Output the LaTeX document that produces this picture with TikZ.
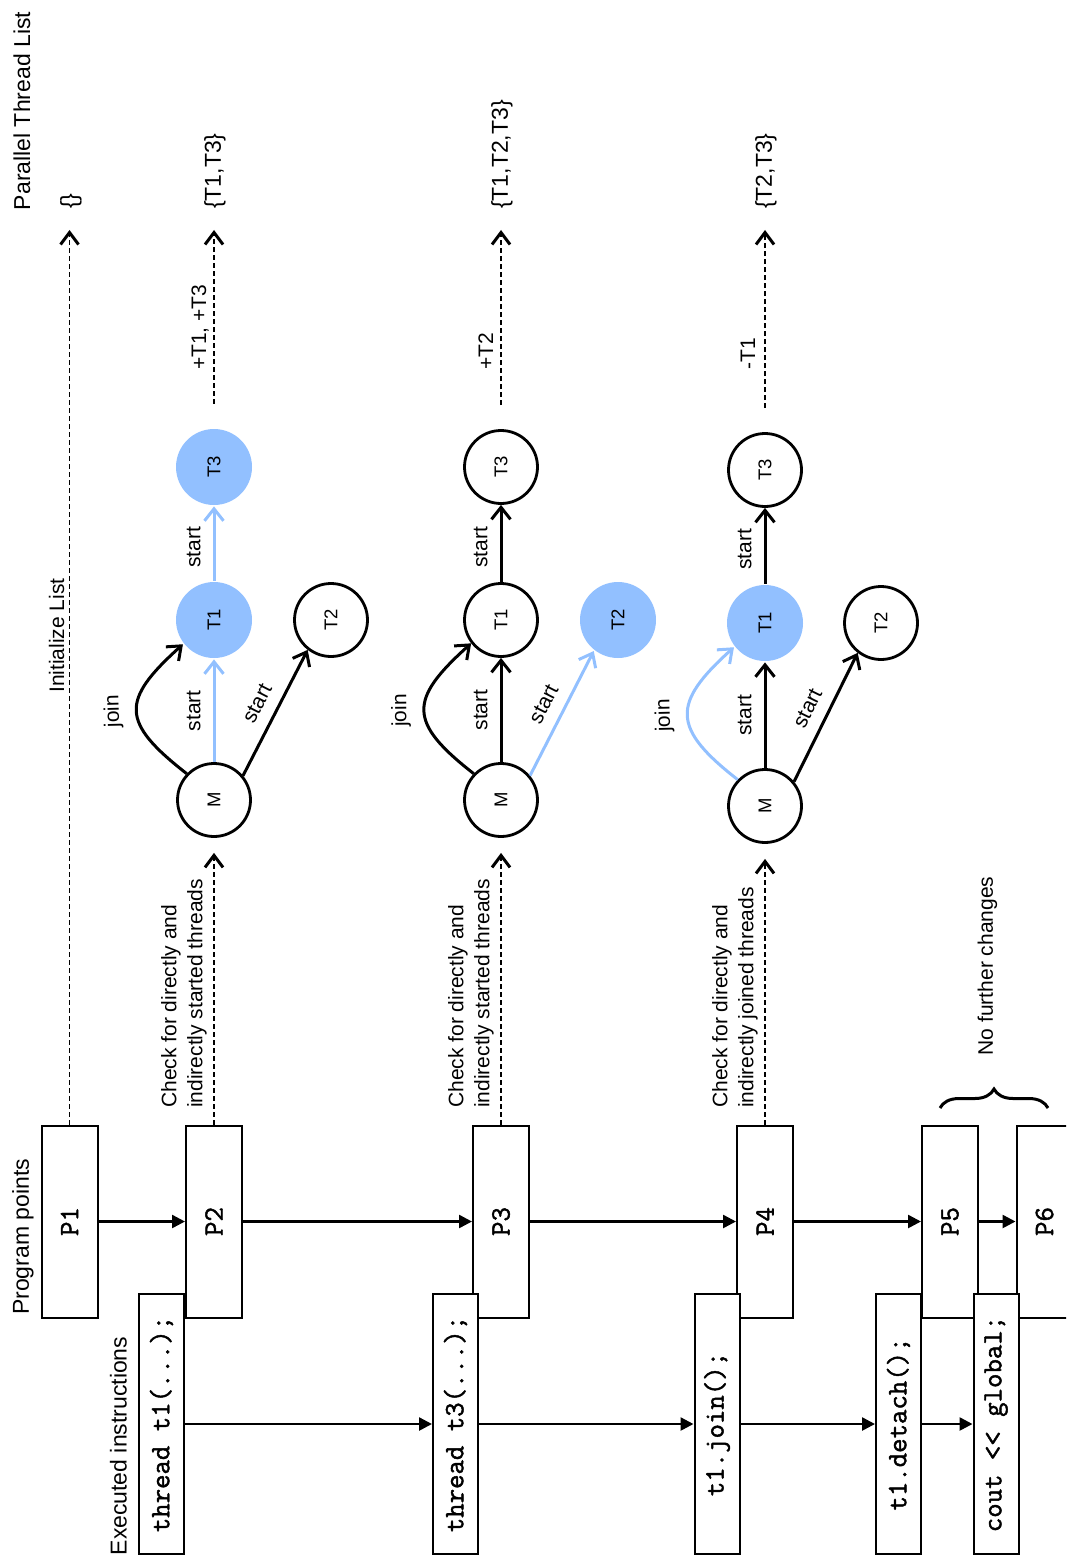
\documentclass[tikz,border=0pt]{standalone}
\usepackage{fontspec}
\setmainfont{Liberation Sans}
\newfontfamily\codefont{Latin Modern Mono}[FakeBold=1.6]
\usetikzlibrary{arrows.meta,decorations.pathreplacing}
\definecolor{hl}{RGB}{146,192,255}
\begin{document}
\begin{tikzpicture}[x=1pt,y=1pt,
  headtxt/.style={font=\fontsize{23}{27}\selectfont,inner sep=0pt,rotate=90},
  notetxt/.style={font=\fontsize{21}{26}\selectfont,inner sep=0pt,rotate=90,align=left},
  ppoint/.style={draw,line width=2pt,fill=white,rotate=90,minimum width=192pt,
    minimum height=56pt,inner sep=0pt,font=\codefont\bfseries\fontsize{28}{32}\selectfont},
  instr/.style={draw,line width=2pt,fill=white,rotate=90,minimum width=260pt,
    minimum height=45pt,inner sep=0pt,font=\codefont\bfseries\fontsize{28}{32}\selectfont},
  flow/.style={line width=2.5pt,-{Triangle[length=13pt,width=13pt]}},
  thr/.style={circle,draw,line width=2.8pt,minimum size=73pt,inner sep=0pt,
    font=\fontsize{18.5}{20}\selectfont},
  busy/.style={fill=hl,draw=none,minimum size=76pt},
  tedge/.style={line width=3pt,-{Straight Barb[length=12pt,width=19pt]}},
  elabel/.style={font=\fontsize{21}{25}\selectfont,text=black,sloped,above,
    inner xsep=0pt,inner ysep=12pt},
  dasharrow/.style={dash pattern=on 5pt off 3pt,line width=1.8pt,
    -{Straight Barb[length=12pt,width=18pt,line width=3pt]}},
]
\useasboundingbox (0,0) rectangle (1066,-1562);
\clip (0,0) rectangle (1066,-1562);

% column headings
\node[headtxt] (hPP) at (23,-1237) {Program points};
\node[headtxt] (hEI) at (118.5,-1446) {Executed instructions};
\node[headtxt] (hTL) at (22,-111) {Parallel Thread List};

% program points
\node[ppoint] (P1) at (69.5,-1221.5) {P1};
\node[ppoint] (P2) at (214,-1221.5) {P2};
\node[ppoint] (P3) at (501,-1221.5) {P3};
\node[ppoint] (P4) at (765,-1221.5) {P4};
\node[ppoint] (P5) at (950,-1221.5) {P5};
\node[ppoint] (P6) at (1044.5,-1221.5) {P6};

% executed instructions
\node[instr] (I1) at (161.5,-1424) {thread t1(...);};
\node[instr] (I2) at (455.5,-1424) {thread t3(...);};
\node[instr] (I3) at (717,-1424) {t1.join();};
\node[instr] (I4) at (898.5,-1424) {t1.detach();};
\node[instr] (I5) at (996,-1424) {cout <\kern0pt< global;};

\draw[flow] (P1.south) -- (P2.north);
\draw[flow] (P2.south) -- (P3.north);
\draw[flow] (P3.south) -- (P4.north);
\draw[flow] (P4.south) -- (P5.north);
\draw[flow] (P5.south) -- (P6.north);
\draw[flow] (I1.south) -- (I2.north);
\draw[flow] (I2.south) -- (I3.north);
\draw[flow] (I3.south) -- (I4.north);
\draw[flow] (I4.south) -- (I5.north);

% thread list contents
\node[headtxt,anchor=west] (L0) at (71,-209) {\{\}};
\node[headtxt,anchor=west] (L1) at (215,-209) {\{T1,T3\}};
\node[headtxt,anchor=west] (L2) at (502,-209) {\{T1,T2,T3\}};
\node[headtxt,anchor=west] (L3) at (766,-209) {\{T2,T3\}};
\coordinate (e0) at (69.5,-230);
\coordinate (e1) at (214,-230);
\coordinate (e2) at (501,-230);
\coordinate (e3) at (765,-230);

\draw[dasharrow] (P1.east) -- (e0);
\node[notetxt] (init) at (56.5,-635.5) {Initialize List};

% thread graph after P2
\node[thr] (M1) at (214,-800) {\rotatebox{90}{M}};
\node[thr,busy] (A1) at (214,-620) {\rotatebox{90}{T1}};
\node[thr,busy] (C1) at (214,-467) {\rotatebox{90}{T3}};
\node[thr] (B1) at (331,-620) {\rotatebox{90}{T2}};
\draw[tedge,hl] (M1) -- node[elabel,midway] {start} (A1);
\draw[tedge,hl] (A1) -- node[elabel,pos=0.45] {start} (C1);
\draw[tedge] (M1.40) -- node[elabel,midway] {start} (B1.232);
\draw[tedge] (M1.136) .. controls +(142:84) and +(222:84) .. node[elabel,midway,allow upside down] {join} (A1.218);
\draw[dasharrow,shorten >=15pt] (P2.east) -- (M1);
\node[notetxt,anchor=south west] (chk1) at (207,-1108) {Check for directly and\\indirectly started threads};
\draw[dasharrow,shorten <=24pt] (C1) -- (e1);
\node[notetxt,anchor=base west] (d1) at (206,-370) {+T1, +T3};

% thread graph after P3
\node[thr] (M2) at (501,-800) {\rotatebox{90}{M}};
\node[thr] (A2) at (501,-620) {\rotatebox{90}{T1}};
\node[thr] (C2) at (501,-467) {\rotatebox{90}{T3}};
\node[thr,busy] (B2) at (618,-620) {\rotatebox{90}{T2}};
\draw[tedge] (M2) -- node[elabel,midway] {start} (A2);
\draw[tedge] (A2) -- node[elabel,pos=0.45] {start} (C2);
\draw[tedge,hl] (M2.40) -- node[elabel,midway] {start} (B2.232);
\draw[tedge] (M2.136) .. controls +(142:84) and +(222:84) .. node[elabel,midway,allow upside down] {join} (A2.218);
\draw[dasharrow,shorten >=15pt] (P3.east) -- (M2);
\node[notetxt,anchor=south west] (chk2) at (494,-1108) {Check for directly and\\indirectly started threads};
\draw[dasharrow,shorten <=24pt] (C2) -- (e2);
\node[notetxt,anchor=base west] (d2) at (493,-370) {+T2};

% thread graph after P4
\node[thr] (M3) at (765,-806) {\rotatebox{90}{M}};
\node[thr,busy] (A3) at (765,-623) {\rotatebox{90}{T1}};
\node[thr] (C3) at (765,-470) {\rotatebox{90}{T3}};
\node[thr] (B3) at (881,-623) {\rotatebox{90}{T2}};
\draw[tedge] (M3) -- node[elabel,midway] {start} (A3);
\draw[tedge] (A3) -- node[elabel,pos=0.45] {start} (C3);
\draw[tedge] (M3.40) -- node[elabel,midway] {start} (B3.232);
\draw[tedge,hl] (M3.136) .. controls +(142:84) and +(222:84) .. node[elabel,midway,allow upside down] {join} (A3.218);
\draw[dasharrow,shorten >=15pt] (P4.east) -- (M3);
\node[notetxt,anchor=south west] (chk3) at (758,-1108) {Check for directly and\\indirectly joined threads};
\draw[dasharrow,shorten <=24pt] (C3) -- (e3);
\node[notetxt,anchor=base west] (d3) at (755,-370) {-T1};

% no change after P5
\draw[line width=3pt,decorate,decoration={brace,amplitude=19pt}] (940,-1108) -- (1048,-1108);
\node[notetxt] (nfc) at (987.5,-966) {No further changes};
\end{tikzpicture}
\end{document}
